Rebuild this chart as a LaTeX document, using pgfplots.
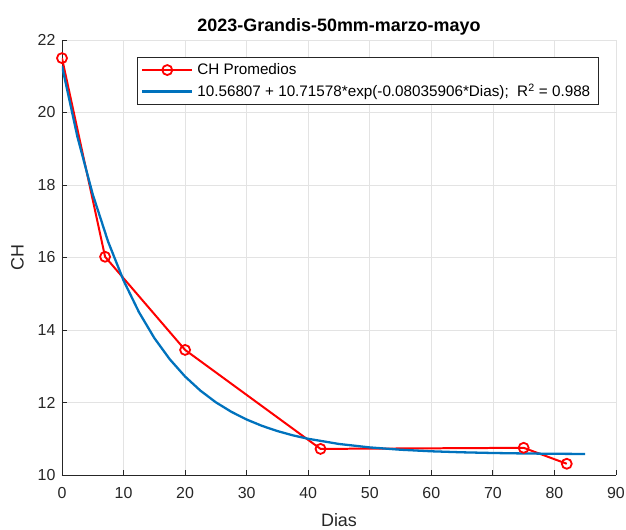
\documentclass[border=0pt]{standalone}
\usepackage{fontspec}
\setmainfont{Liberation Sans}
\usepackage{pgfplots}
\pgfplotsset{compat=1.18}
\definecolor{matred}{HTML}{FF0000}
\definecolor{matblue}{HTML}{0072BD}
\definecolor{axgray}{HTML}{262626}
\definecolor{gridgray}{HTML}{E3E3E3}

\begin{document}
\begin{tikzpicture}
% page = reference frame, axis box at (62,40)-(616,475) px
\useasboundingbox (-62bp,-55bp) rectangle (564bp,475bp);
\begin{axis}[
    width=554bp, height=435bp,
    scale only axis,
    xmin=0, xmax=90, ymin=10, ymax=22,
    xtick={0,10,...,90},
    ytick={10,12,...,22},
    axis lines*=left,
    axis line style={axgray, line width=0.8pt},
    tick style={axgray, line width=0.8pt},
    tick align=inside,
    major tick length=5bp,
    grid=major,
    grid style={gridgray, line width=0.6pt},
    /pgf/number format/assume math mode=true,
    tick label style={font=\fontsize{16}{18}\selectfont, text=axgray},
    xticklabel style={yshift=-9bp},
    yticklabel style={xshift=-3bp},
    xlabel={Dias},
    ylabel={CH},
    label style={font=\fontsize{18}{20}\selectfont, text=axgray},
    xlabel style={yshift=-8bp},
    ylabel style={yshift=7bp},
    title={\bfseries 2023-Grandis-50mm-marzo-mayo},
    title style={font=\fontsize{18}{20}\selectfont, yshift=-5bp},
    legend style={at={(0.135,0.96)}, anchor=north west, draw=axgray,
        line width=0.8pt, fill=white, font=\fontsize{15.3}{17}\selectfont,
        legend cell align=left, row sep=4bp, inner xsep=4bp, inner ysep=4bp,
        nodes={inner xsep=4bp}},
    legend image code/.code={\draw[mark repeat=2,mark phase=2,#1] plot coordinates {(0cm,0cm) (0.88cm,0cm) (1.76cm,0cm)};},
]
\addplot[matred, line width=2pt, mark=o, mark size=5bp, mark options={line width=1.8pt}]
    coordinates { (0,21.5) (7,16.02) (20,13.45) (42,10.72) (75,10.75) (82,10.31) };
\addlegendentry{CH Promedios}
\addplot[matblue, line width=2.3pt, no marks]
    coordinates {
    (0,21.284) (2.5,19.334) (5,17.738) (7.5,16.433) (10,15.366)
    (12.5,14.493) (15,13.778) (17.5,13.194) (20,12.716) (22.5,12.325)
    (25,12.005) (27.5,11.744) (30,11.530) (32.5,11.355) (35,11.212)
    (37.5,11.094) (40,10.999) (45,10.856) (50,10.761) (55,10.697)
    (60,10.654) (65,10.626) (70,10.607) (75,10.594) (80,10.585) (85,10.580) };
\addlegendentry{10.56807 + 10.71578*exp(-0.08035906*Dias);\ \ R\textsuperscript{2} = 0.988}
\end{axis}
\end{tikzpicture}
\end{document}
